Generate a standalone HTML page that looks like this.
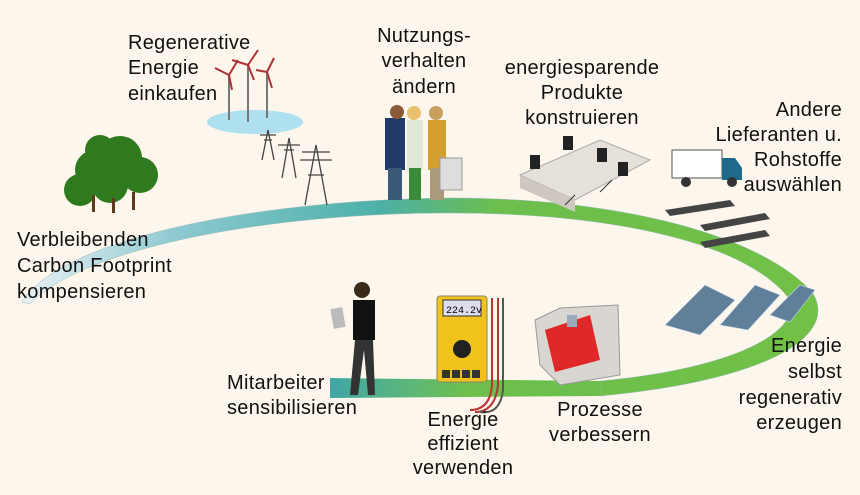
<!DOCTYPE html>
<html><head><meta charset="utf-8"><style>
html,body{margin:0;padding:0}
body{width:860px;height:495px;background:#fdf6ec;position:relative;overflow:hidden;font-family:"Liberation Sans",Arial,sans-serif;}
.t{position:absolute;font-size:20px;line-height:25.5px;color:#111;white-space:nowrap;letter-spacing:0.3px}
svg{position:absolute;left:0;top:0}
</style></head><body>
<svg width="860" height="495" viewBox="0 0 860 495">
<defs>
<linearGradient id="g" x1="0" y1="0" x2="1" y2="0">
<stop offset="0" stop-color="#e8f1f4"/><stop offset="0.2" stop-color="#8cc8d0"/><stop offset="0.45" stop-color="#4cb0a8"/><stop offset="0.6" stop-color="#6cbf4c"/><stop offset="1" stop-color="#72c046"/>
</linearGradient>
<linearGradient id="g2" x1="0" y1="0" x2="1" y2="0">
<stop offset="0" stop-color="#3fa5a6"/><stop offset="0.3" stop-color="#5db77a"/><stop offset="0.5" stop-color="#6cbf4c"/>
</linearGradient>
</defs>
<path d="M22,302 C60,240 250,200 450,198 C620,198 760,235 812,292 C840,335 770,380 600,396 L600,381 C740,368 800,330 790,300 C750,245 620,213 450,213 C260,213 80,250 30,304 Z" fill="url(#g)" stroke="#9bb" stroke-width="0.5"/>
<path d="M330,378 L600,381 L600,396 L330,398 Z" fill="url(#g2)"/>
<!-- trees -->
<g fill="#2f7a1e">
<circle cx="95" cy="170" r="20"/><circle cx="120" cy="158" r="22"/><circle cx="80" cy="190" r="16"/><circle cx="110" cy="185" r="18"/><circle cx="140" cy="175" r="18"/><circle cx="100" cy="150" r="15"/>
</g>
<g fill="#5b3a1a"><rect x="92" y="195" width="3" height="17"/><rect x="112" y="198" width="3" height="15"/><rect x="132" y="192" width="3" height="18"/></g>
<!-- lake + turbines -->
<ellipse cx="255" cy="122" rx="48" ry="12" fill="#aee0ef"/>
<g stroke="#777" stroke-width="2" fill="none">
<line x1="229" y1="75" x2="229" y2="120"/><line x1="248" y1="65" x2="248" y2="122"/><line x1="267" y1="72" x2="267" y2="118"/>
</g>
<g stroke="#a33" stroke-width="2" fill="none">
<path d="M229,75 L215,68 M229,75 L238,60 M229,75 L232,90 M248,65 L232,60 M248,65 L258,50 M248,65 L254,80 M267,72 L274,58 M267,72 L256,70 M267,72 L272,88"/>
</g>
<!-- pylons -->
<g stroke="#444" stroke-width="1.3" fill="none">
<path d="M262,160 L268,130 L274,160 M264,140 L272,140 M260,135 L276,135"/>
<path d="M282,178 L289,138 L296,178 M284,150 L294,150 M278,145 L300,145"/>
<path d="M305,205 L316,145 L327,205 M308,175 L324,175 M300,160 L332,160 M302,152 L330,152"/>
</g>
<!-- people -->
<g>
<rect x="385" y="118" width="20" height="52" fill="#223a6a"/><circle cx="397" cy="112" r="7" fill="#8a5a3a"/><rect x="388" y="168" width="14" height="32" fill="#3a5a7a"/>
<rect x="407" y="120" width="16" height="50" fill="#dfe8d8"/><circle cx="414" cy="113" r="7" fill="#e8c070"/><rect x="409" y="168" width="12" height="32" fill="#3a8a3a"/>
<rect x="428" y="120" width="18" height="50" fill="#d4a030"/><circle cx="436" cy="113" r="7" fill="#c9a060"/><rect x="430" y="168" width="14" height="32" fill="#aa9a7a"/>
<rect x="440" y="158" width="22" height="32" fill="#ddd" stroke="#999"/>
</g>
<!-- office desks -->
<path d="M520,175 L600,140 L650,160 L575,200 Z" fill="#e6e0da" stroke="#aaa"/>
<path d="M520,175 L575,200 L575,212 L520,188 Z" fill="#cfc8c0"/>
<g fill="#222"><rect x="530" y="155" width="10" height="14"/><rect x="563" y="136" width="10" height="14"/><rect x="597" y="148" width="10" height="14"/><rect x="618" y="162" width="10" height="14"/></g>
<g stroke="#333" fill="none"><path d="M565,205 L575,195 M600,192 L612,180"/></g>
<!-- truck -->
<rect x="672" y="150" width="50" height="28" fill="#fff" stroke="#555"/><path d="M722,158 L735,158 L742,168 L742,180 L722,180 Z" fill="#1e6a8a"/>
<circle cx="686" cy="182" r="5" fill="#333"/><circle cx="732" cy="182" r="5" fill="#333"/>
<!-- steel beams -->
<g fill="#444"><path d="M665,210 L730,200 L735,206 L670,216 Z"/><path d="M700,225 L765,213 L770,219 L705,231 Z"/><path d="M700,242 L765,230 L770,236 L705,248 Z"/></g>
<!-- solar panels -->
<g fill="#5f7f9a" stroke="#cde" stroke-width="0.6">
<path d="M665,325 L705,285 L735,300 L700,335 Z"/><path d="M720,325 L755,285 L780,295 L748,330 Z"/><path d="M770,315 L800,285 L815,290 L790,322 Z"/>
</g>
<!-- walking man -->
<rect x="353" y="300" width="22" height="40" fill="#111"/><circle cx="362" cy="290" r="8" fill="#3a2a1a"/>
<rect x="332" y="308" width="12" height="20" fill="#bbb" transform="rotate(-10 338 318)"/>
<path d="M355,340 L350,395 L358,395 L364,350 L368,395 L375,395 L373,340 Z" fill="#333"/>
<!-- multimeter -->
<rect x="437" y="296" width="50" height="86" rx="3" fill="#f2c21c" stroke="#886" />
<rect x="443" y="300" width="38" height="16" fill="#dde" stroke="#333"/>
<text x="446" y="313" font-size="10" font-family="Liberation Mono">224.2v</text>
<circle cx="462" cy="349" r="9" fill="#222"/>
<g fill="#333"><rect x="442" y="370" width="8" height="8"/><rect x="452" y="370" width="8" height="8"/><rect x="462" y="370" width="8" height="8"/><rect x="472" y="370" width="8" height="8"/></g>
<path d="M492,298 L492,385 Q490,410 470,410 M498,298 L498,385 Q495,412 475,412" stroke="#b33" stroke-width="2" fill="none"/>
<path d="M503,298 L503,390 Q500,415 480,412" stroke="#555" stroke-width="2" fill="none"/>
<!-- CNC machine -->
<path d="M535,320 L560,308 L618,305 L620,375 L560,385 L540,365 Z" fill="#d9d5d0" stroke="#999"/>
<path d="M545,330 L590,315 L600,360 L555,372 Z" fill="#e02828"/>
<rect x="567" y="315" width="10" height="12" fill="#9ab"/>
</svg>

<div class="t" style="left:128px;top:31px">Regenerative</div>
<div class="t" style="left:128px;top:56px">Energie</div>
<div class="t" style="left:128px;top:82px">einkaufen</div>

<div class="t" style="left:364px;top:24px;width:120px;text-align:center">Nutzungs-</div>
<div class="t" style="left:364px;top:49px;width:120px;text-align:center">verhalten</div>
<div class="t" style="left:364px;top:75px;width:120px;text-align:center">ändern</div>

<div class="t" style="left:497px;top:56px;width:170px;text-align:center">energiesparende</div>
<div class="t" style="left:497px;top:81px;width:170px;text-align:center">Produkte</div>
<div class="t" style="left:497px;top:106px;width:170px;text-align:center">konstruieren</div>

<div class="t" style="right:18px;top:98px;text-align:right">Andere</div>
<div class="t" style="right:18px;top:123px;text-align:right">Lieferanten u.</div>
<div class="t" style="right:18px;top:148px;text-align:right">Rohstoffe</div>
<div class="t" style="right:18px;top:173px;text-align:right">auswählen</div>

<div class="t" style="left:17px;top:228px">Verbleibenden</div>
<div class="t" style="left:17px;top:254px">Carbon Footprint</div>
<div class="t" style="left:17px;top:280px">kompensieren</div>

<div class="t" style="left:227px;top:371px">Mitarbeiter</div>
<div class="t" style="left:227px;top:396px">sensibilisieren</div>

<div class="t" style="left:403px;top:408px;width:120px;text-align:center">Energie</div>
<div class="t" style="left:403px;top:432px;width:120px;text-align:center">effizient</div>
<div class="t" style="left:403px;top:456px;width:120px;text-align:center">verwenden</div>

<div class="t" style="left:540px;top:398px;width:120px;text-align:center">Prozesse</div>
<div class="t" style="left:540px;top:423px;width:120px;text-align:center">verbessern</div>

<div class="t" style="right:18px;top:334px;text-align:right">Energie</div>
<div class="t" style="right:18px;top:360px;text-align:right">selbst</div>
<div class="t" style="right:18px;top:386px;text-align:right">regenerativ</div>
<div class="t" style="right:18px;top:411px;text-align:right">erzeugen</div>
</body></html>
